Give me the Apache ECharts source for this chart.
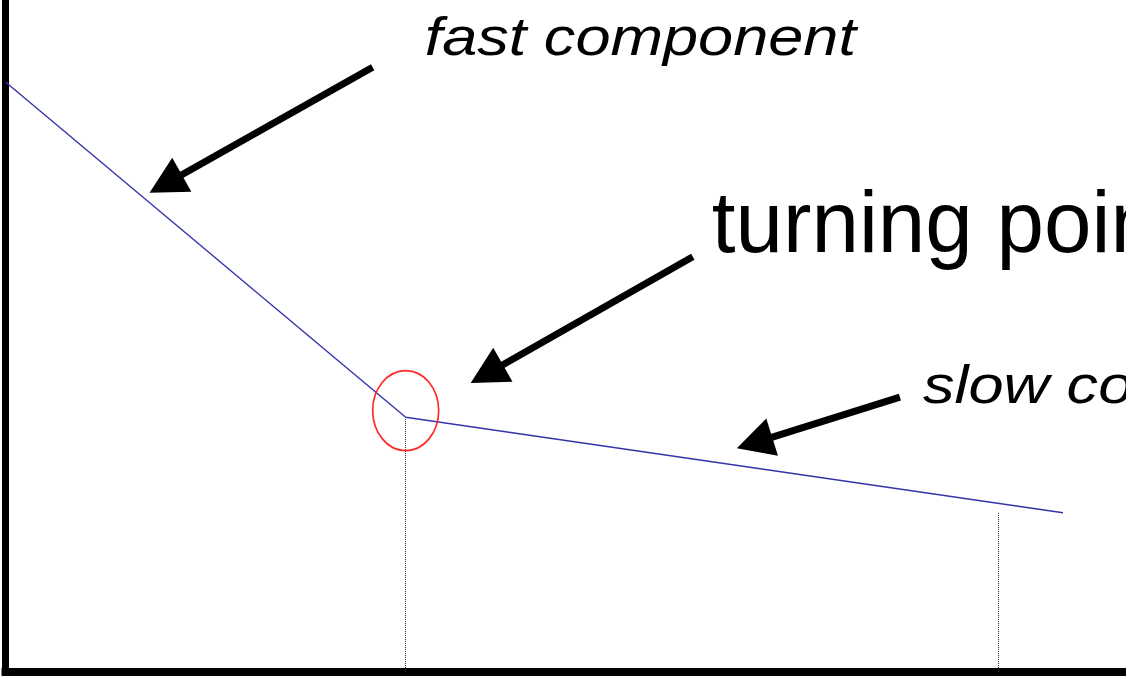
<!DOCTYPE html>
<html>
<head>
<meta charset="utf-8">
<script src="https://cdn.jsdelivr.net/npm/echarts@6/dist/echarts.min.js"></script>
<style>
html,body{margin:0;padding:0;background:#fff;}
#chart{width:1126px;height:677px;}
</style>
</head>
<body>
<div id="chart"></div>
<script>
// ---- data ----
var lineX = [0, 40, 105.7];
var lineY = [87.8, 37.9, 23.7];
var dropX = [40, 99.2];
var dropTop = [37.9, 23.7];
var labelTexts = ['fast component', 'turning point', 'slow component'];

// ---- annotation anchors (data units) ----
var labelAnchors = [[41.9, 91.8], [70.6, 62.5], [91.7, 40.0]];
var arrowFrom = [[36.7, 90.0], [68.7, 61.8], [89.4, 40.9]];
var arrowTo = [[14.4, 71.3], [46.5, 43.0], [73.1, 33.3]];
var circleCenter = [40, 38.9];

var chart = echarts.init(document.getElementById('chart'), null, {renderer: 'canvas'});

var lineData = lineX.map(function (x, i) { return [x, lineY[i]]; });
var dropData = dropX.map(function (x, i) {
  return [{coord: [x, 0]}, {coord: [x, dropTop[i]]}];
});

chart.setOption({
  animation: false,
  backgroundColor: '#ffffff',
  grid: {left: 5.5, right: 0, top: 0, bottom: 5},
  xAxis: {
    type: 'value', min: 0, max: 112,
    axisLine: {show: true, onZero: false, lineStyle: {color: '#000', width: 8, cap: 'square'}},
    axisTick: {show: false}, axisLabel: {show: false}, splitLine: {show: false}
  },
  yAxis: {
    type: 'value', min: 0, max: 100,
    axisLine: {show: true, onZero: false, lineStyle: {color: '#000', width: 7, cap: 'square'}},
    axisTick: {show: false}, axisLabel: {show: false}, splitLine: {show: false}
  },
  series: [{
    type: 'line',
    data: lineData,
    symbol: 'none',
    z: 5,
    lineStyle: {color: '#3535aa', width: 1.4},
    markLine: {
      silent: true,
      symbol: ['none', 'none'],
      label: {show: false},
      lineStyle: {type: 'dotted', color: '#333', width: 1},
      data: dropData
    }
  }]
});

function px(p) { return chart.convertToPixel({gridIndex: 0}, p); }

var graphics = [];

// ellipse around turning point
var cc = px(circleCenter);
graphics.push({
  type: 'ellipse', z: 10,
  shape: {cx: cc[0], cy: cc[1], rx: 33, ry: 40},
  style: {fill: 'none', stroke: '#ff2a2a', lineWidth: 1.7}
});

// arrows
var headLen = 37, headHalf = 19.5;
arrowFrom.forEach(function (f, i) {
  var a = px(f), b = px(arrowTo[i]);
  var dx = b[0] - a[0], dy = b[1] - a[1];
  var len = Math.sqrt(dx * dx + dy * dy);
  var ux = dx / len, uy = dy / len;
  var nx = -uy, ny = ux;
  var bm = [b[0] - ux * headLen, b[1] - uy * headLen];
  graphics.push({
    type: 'line', z: 10,
    shape: {x1: a[0], y1: a[1], x2: bm[0] + ux * 3, y2: bm[1] + uy * 3},
    style: {stroke: '#000', lineWidth: 7, lineCap: 'butt'}
  });
  graphics.push({
    type: 'polygon', z: 10,
    shape: {points: [b, [bm[0] + nx * headHalf, bm[1] + ny * headHalf], [bm[0] - nx * headHalf, bm[1] - ny * headHalf]]},
    style: {fill: '#000'}
  });
});

// labels
var labelFonts = ['italic 53px "Liberation Sans"', '88px "Liberation Sans"', 'italic 53px "Liberation Sans"'];
var labelScale = [1.19, 0.97, 1.19];
var labelSizes = [53, 88, 53];
labelTexts.forEach(function (t, i) {
  var p = px(labelAnchors[i]);
  graphics.push({
    type: 'text', z: 10,
    x: p[0], y: p[1] - 0.28 * labelSizes[i],
    scaleX: labelScale[i],
    style: {text: t, font: labelFonts[i], fill: '#000', textAlign: 'left', textVerticalAlign: 'middle'}
  });
});

chart.setOption({graphic: graphics});
</script>
</body>
</html>
